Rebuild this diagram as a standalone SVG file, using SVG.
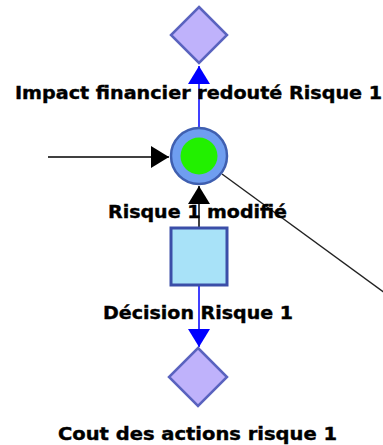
<svg xmlns="http://www.w3.org/2000/svg" width="383" height="445" viewBox="0 0 383 445">
<style>
.lbl{font-family:"DejaVu Sans","Liberation Sans",sans-serif;font-weight:bold;font-size:18px;fill:#000;stroke:#000;stroke-width:0.4;text-anchor:middle}
.dia{fill:#bfb2fb;stroke:#5a63bf;stroke-width:2.5}
.blue{stroke:#0000ff;stroke-width:1.5;fill:none}
.blk{stroke:#000;stroke-width:1.5;fill:none}
</style>
<defs>
<marker id="ab" markerUnits="userSpaceOnUse" markerWidth="18" markerHeight="22" refX="18" refY="11" orient="auto">
<path d="M0,0 L18,11 L0,22 Z" fill="#0000ff"/>
</marker>
<marker id="ak" markerUnits="userSpaceOnUse" markerWidth="18" markerHeight="22" refX="18" refY="11" orient="auto">
<path d="M0,0 L18,11 L0,22 Z" fill="#000"/>
</marker>
</defs>
<g id="connectors">
<line class="blue" x1="199" y1="128" x2="199" y2="66" marker-end="url(#ab)"/>
<line class="blk" x1="48" y1="157" x2="169" y2="157" marker-end="url(#ak)"/>
<line class="blk" x1="199" y1="227" x2="199" y2="186" marker-end="url(#ak)"/>
<line class="blue" x1="199" y1="286" x2="199" y2="347" marker-end="url(#ab)"/>
<line stroke="#222" stroke-width="1.4" x1="222" y1="174" x2="400" y2="304"/>
</g>
<g id="impact">
<path class="dia" d="M199,7 L227,35 L199,63 L171,35 Z"/>
<text class="lbl" x="198.5" y="99" textLength="367" lengthAdjust="spacingAndGlyphs">Impact financier redouté Risque 1</text>
</g>
<g id="risque-modifie">
<circle cx="199" cy="156" r="28" fill="#6f9ef0" stroke="#3f5fb0" stroke-width="2.5"/>
<circle cx="199" cy="156" r="18.5" fill="#22f000"/>
<text class="lbl" x="197.5" y="218" textLength="179" lengthAdjust="spacingAndGlyphs">Risque 1 modifié</text>
</g>
<g id="decision">
<rect x="171" y="228" width="56" height="57" fill="#a8e2f8" stroke="#3b4ea8" stroke-width="3"/>
<text class="lbl" x="198" y="319" textLength="190" lengthAdjust="spacingAndGlyphs">Décision Risque 1</text>
</g>
<g id="cout">
<path class="dia" d="M198,348 L227,377 L198,406 L169,377 Z"/>
<text class="lbl" x="197.5" y="440" textLength="279" lengthAdjust="spacingAndGlyphs">Cout des actions risque 1</text>
</g>
</svg>
